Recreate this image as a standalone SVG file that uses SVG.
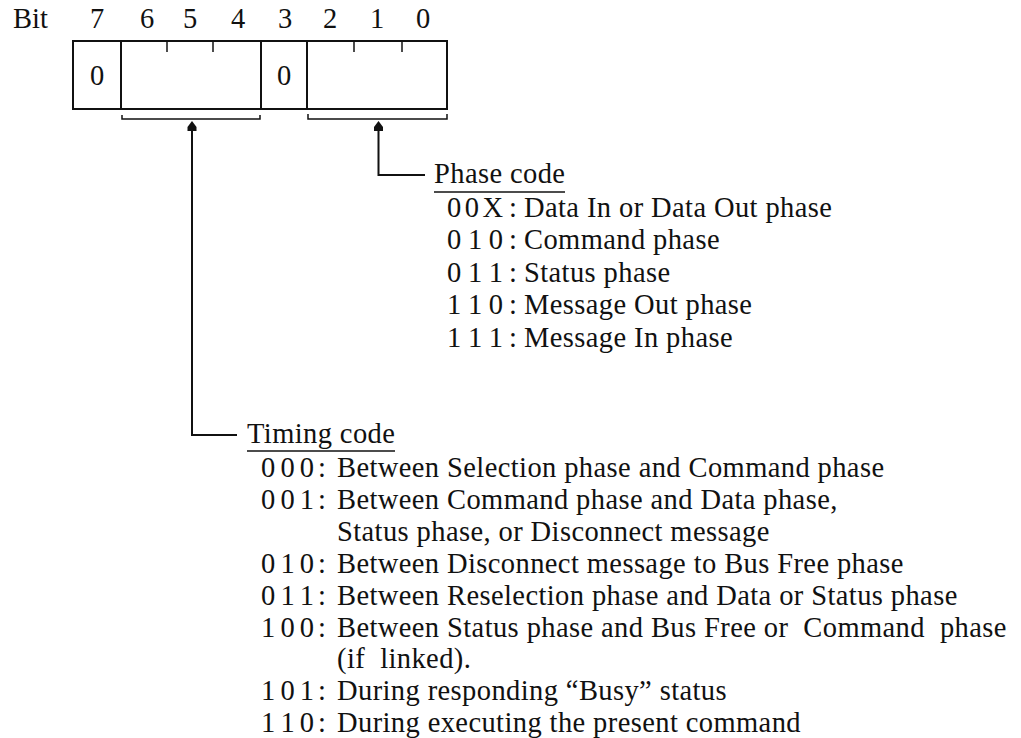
<svg xmlns="http://www.w3.org/2000/svg" width="1021" height="738" viewBox="0 0 1021 738">
  <style>
    text { font-family: "Liberation Serif", "Times New Roman", serif; font-size: 28.5px; fill: #111; letter-spacing: 0.4px; white-space: pre; }
    .mid { text-anchor: middle; letter-spacing: 0; }
    .code { letter-spacing: 0; }
    .box { fill: #fff; stroke: #111; stroke-width: 2; }
    .ln { fill: none; stroke: #111; stroke-width: 2; }
    .thin { fill: none; stroke: #111; stroke-width: 1.5; }
    .head { fill: #111; stroke: none; }
  </style>
  <rect width="1021" height="738" fill="#fff"/>

  <g id="bit-labels">
    <text x="13" y="28" style="letter-spacing:0">Bit</text>
    <text class="mid" x="97" y="28">7</text>
    <text class="mid" x="147" y="28">6</text>
    <text class="mid" x="190" y="28">5</text>
    <text class="mid" x="238" y="28">4</text>
    <text class="mid" x="285" y="28">3</text>
    <text class="mid" x="330" y="28">2</text>
    <text class="mid" x="377" y="28">1</text>
    <text class="mid" x="423" y="28">0</text>
  </g>

  <g id="register">
    <rect class="box" x="73" y="41" width="374" height="68"/>
    <line class="ln" x1="121" y1="41" x2="121" y2="109"/>
    <line class="ln" x1="261" y1="41" x2="261" y2="109"/>
    <line class="ln" x1="307" y1="41" x2="307" y2="109"/>
    <line class="thin" x1="167" y1="41" x2="167" y2="52"/>
    <line class="thin" x1="213" y1="41" x2="213" y2="52"/>
    <line class="thin" x1="354" y1="41" x2="354" y2="52"/>
    <line class="thin" x1="402" y1="41" x2="402" y2="52"/>
    <text class="mid" x="97" y="85">0</text>
    <text class="mid" x="284" y="85">0</text>
    <path class="thin" d="M122,115 V119 H260 V115"/>
    <path class="thin" d="M308,114 V119 H447 V114"/>
  </g>

  <g id="connectors">
    <path class="head" d="M192,121 L196.5,127 L196.5,131 L187.5,131 L187.5,127 Z"/>
    <path class="ln" d="M192,131 V435 H237"/>
    <path class="head" d="M378.5,121 L383,127 L383,131 L374,131 L374,127 Z"/>
    <path class="ln" d="M378.5,131 V175 H425"/>
  </g>

  <g id="phase-code">
    <text x="434" y="183">Phase code</text>
    <line class="thin" x1="434" y1="192" x2="565" y2="192"/>
    <text class="code" x="447" y="216.5" textLength="56" lengthAdjust="spacing">0 0 X</text><text x="509" y="216.5">:</text><text x="524" y="216.5">Data In or Data Out phase</text>
    <text class="code" x="447" y="249" textLength="56" lengthAdjust="spacing">0 1 0</text><text x="509" y="249">:</text><text x="524" y="249">Command phase</text>
    <text class="code" x="447" y="281.5" textLength="56" lengthAdjust="spacing">0 1 1</text><text x="509" y="281.5">:</text><text x="524" y="281.5">Status phase</text>
    <text class="code" x="447" y="314" textLength="56" lengthAdjust="spacing">1 1 0</text><text x="509" y="314">:</text><text x="524" y="314">Message Out phase</text>
    <text class="code" x="447" y="346.5" textLength="56" lengthAdjust="spacing">1 1 1</text><text x="509" y="346.5">:</text><text x="524" y="346.5">Message In phase</text>
  </g>

  <g id="timing-code">
    <text x="247" y="443">Timing code</text>
    <line class="thin" x1="247" y1="451" x2="395" y2="451"/>
    <text class="code" x="261" y="477" textLength="53" lengthAdjust="spacing">0 0 0</text><text x="318" y="477">:</text><text x="337" y="477">Between Selection phase and Command phase</text>
    <text class="code" x="261" y="508.9" textLength="53" lengthAdjust="spacing">0 0 1</text><text x="318" y="508.9">:</text><text x="337" y="508.9">Between Command phase and Data phase,</text>
    <text x="337" y="540.8">Status phase, or Disconnect message</text>
    <text class="code" x="261" y="572.7" textLength="53" lengthAdjust="spacing">0 1 0</text><text x="318" y="572.7">:</text><text x="337" y="572.7">Between Disconnect message to Bus Free phase</text>
    <text class="code" x="261" y="604.6" textLength="53" lengthAdjust="spacing">0 1 1</text><text x="318" y="604.6">:</text><text x="337" y="604.6">Between Reselection phase and Data or Status phase</text>
    <text class="code" x="261" y="636.5" textLength="53" lengthAdjust="spacing">1 0 0</text><text x="318" y="636.5">:</text><text x="337" y="636.5">Between Status phase and Bus Free or  Command  phase</text>
    <text x="337" y="668.4">(if  linked).</text>
    <text class="code" x="261" y="700.3" textLength="53" lengthAdjust="spacing">1 0 1</text><text x="318" y="700.3">:</text><text x="337" y="700.3">During responding “Busy” status</text>
    <text class="code" x="261" y="732.2" textLength="53" lengthAdjust="spacing">1 1 0</text><text x="318" y="732.2">:</text><text x="337" y="732.2">During executing the present command</text>
  </g>
</svg>
